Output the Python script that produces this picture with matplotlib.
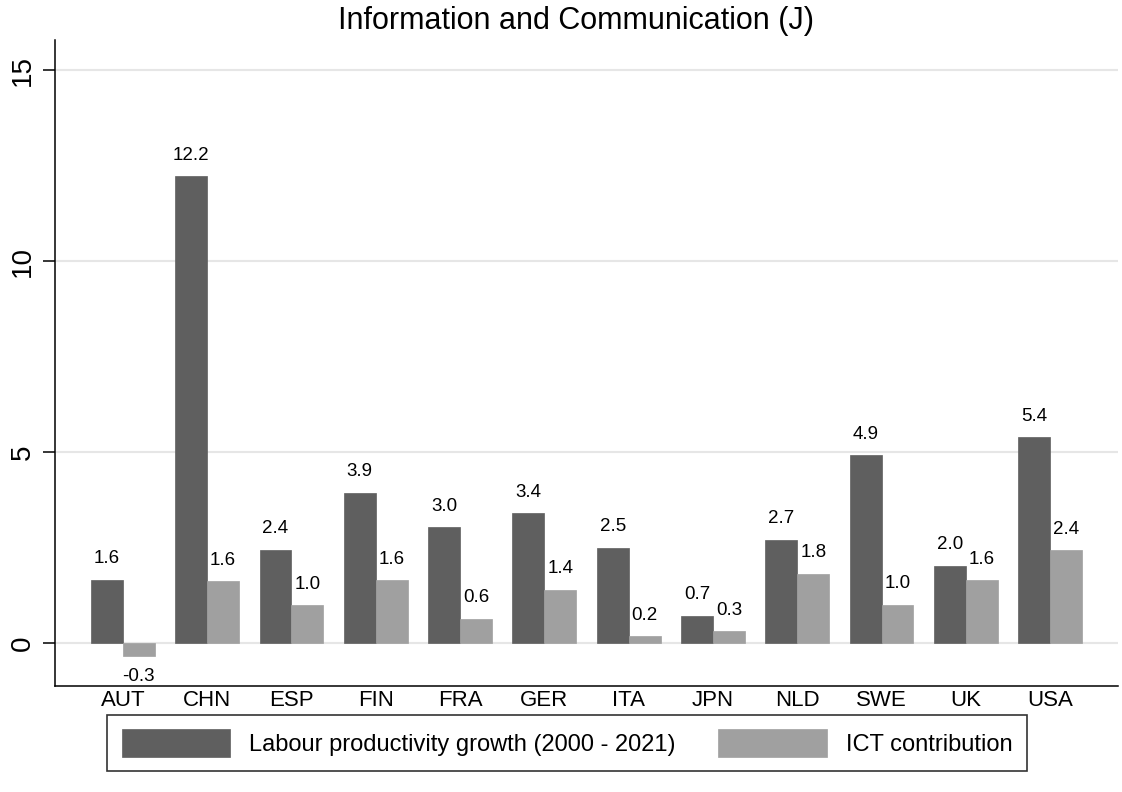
import matplotlib
matplotlib.use("Agg")
import matplotlib.pyplot as plt
import numpy as np

plt.rcParams['font.family'] = ['Liberation Sans', 'DejaVu Sans']

countries = ["AUT", "CHN", "ESP", "FIN", "FRA", "GER", "ITA", "JPN", "NLD", "SWE", "UK", "USA"]
labour_growth = [1.65, 12.22, 2.44, 3.94, 3.03, 3.40, 2.49, 0.71, 2.70, 4.92, 2.02, 5.39]
ict_contrib = [-0.34, 1.62, 0.99, 1.64, 0.63, 1.39, 0.18, 0.31, 1.81, 1.00, 1.64, 2.43]
yticks = [0, 5, 10, 15]
title = "Information and Communication (J)"
series_names = ["Labour productivity growth (2000 - 2021)", "ICT contribution"]

dark = "#5f5f5f"
light = "#a0a0a0"

fig = plt.figure(figsize=(11.22, 7.92), dpi=100)
ax = fig.add_axes([55/1122, 1-686/792, (1118-55)/1122, (686-40)/792])

x = np.arange(len(countries))
w = 0.379
b1 = ax.bar(x - w/2, labour_growth, w, color=dark, edgecolor=dark, linewidth=0.5, zorder=2)
b2 = ax.bar(x + w/2, ict_contrib, w, color=light, edgecolor=light, linewidth=0.5, zorder=2)

for bars in (b1, b2):
    for r in bars:
        h = r.get_height()
        cx = r.get_x() + r.get_width()/2
        if h >= 0:
            ax.annotate(f"{h:.1f}", (cx, h), xytext=(0, 9), textcoords="offset points",
                        ha="center", va="bottom", fontsize=13.5)
        else:
            ax.annotate(f"{h:.1f}", (cx, h), xytext=(0, -9), textcoords="offset points",
                        ha="center", va="top", fontsize=13.5)

ax.set_xlim(-0.805, len(countries) - 1 + 0.805)
ax.set_ylim(-1.126, 15.79)
ax.set_xticks(x)
ax.set_xticklabels(countries, fontsize=16)
ax.set_yticks(yticks)
ax.set_yticklabels([str(t) for t in yticks], fontsize=20, rotation=90, va="center")
ax.tick_params(axis="x", length=0, pad=3)
ax.tick_params(axis="y", length=8.6, width=1.1, pad=5)
ax.grid(axis="y", color="#e6e6e6", linewidth=1.5, zorder=0)
ax.set_axisbelow(True)
for s in ["top", "right"]:
    ax.spines[s].set_visible(False)
for s in ["left", "bottom"]:
    ax.spines[s].set_linewidth(1.1)
    ax.spines[s].set_color("black")

fig.text(576/1122, 1-21/792, title, ha="center", va="center", fontsize=22)

leg = fig.legend([b1, b2], series_names, loc="center", bbox_to_anchor=(567/1122, 1-743/792),
                 ncol=2, fontsize=17, frameon=True, fancybox=False, edgecolor="black",
                 handlelength=4.6, handleheight=1.4, handletextpad=0.8, columnspacing=1.8,
                 borderpad=0.62, borderaxespad=0)
leg.get_frame().set_linewidth(1.2)

fig.savefig("out.png", dpi=100, facecolor="white")
